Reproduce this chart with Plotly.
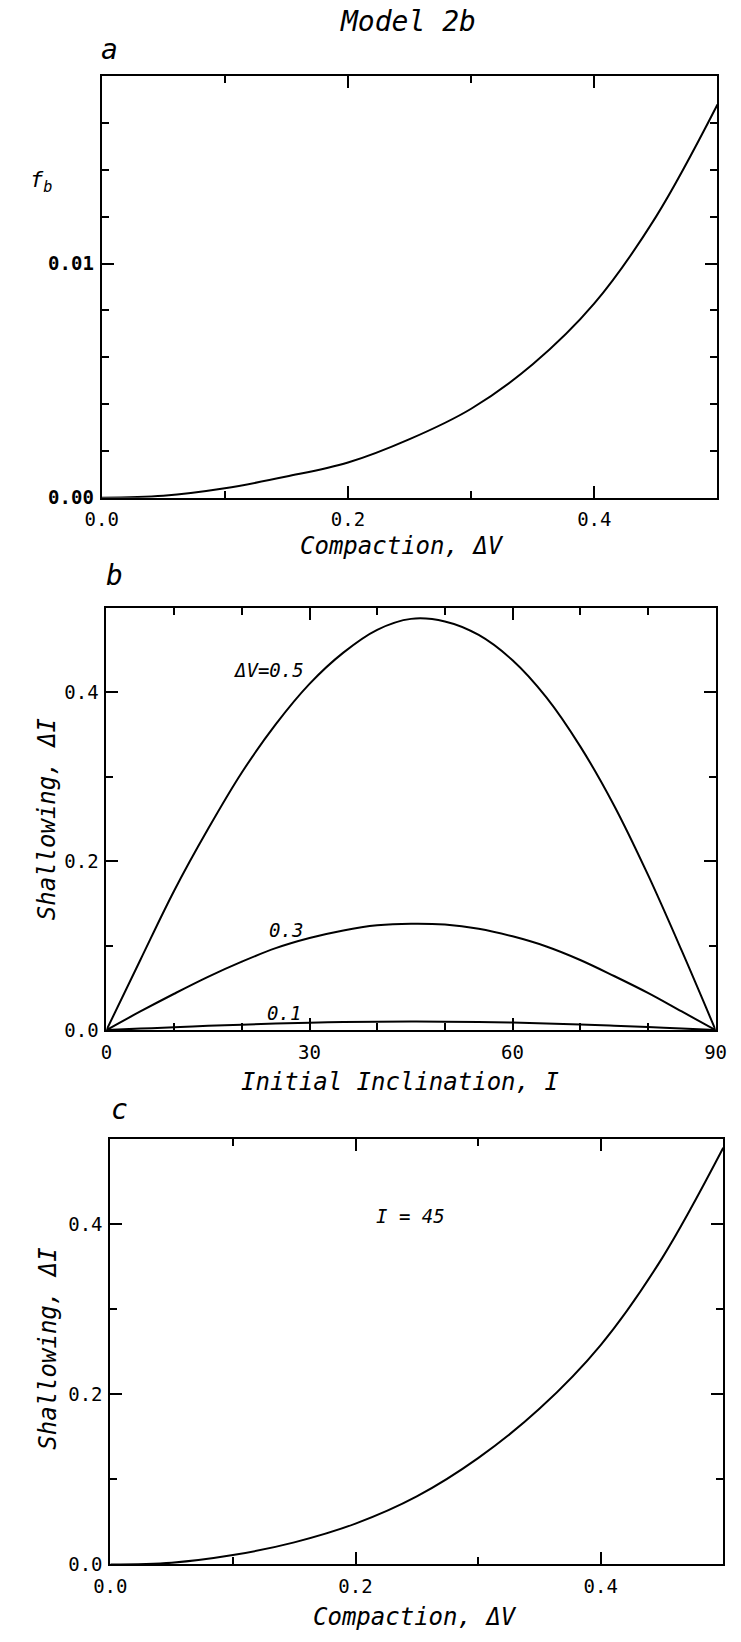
import plotly.graph_objects as go

# ---------------- data ----------------
# Panel a: fraction f_b vs compaction dV
dv_a = [0.0, 0.05, 0.1, 0.15, 0.2, 0.25, 0.3, 0.35, 0.4, 0.45, 0.5]
fb_a = [0.0, 0.00008, 0.0004, 0.0009, 0.0015, 0.0025, 0.0038, 0.0057, 0.0083, 0.0120, 0.0168]

# Panel b: shallowing dI vs initial inclination I for three compactions
inc_b = [0, 5, 10, 15, 20, 25, 30, 35, 40, 45, 50, 55, 60, 65, 70, 75, 80, 85, 90]
dI_05 = [0.0, 0.083, 0.165, 0.238, 0.305, 0.362, 0.410, 0.447, 0.474, 0.487, 0.484, 0.468, 0.438, 0.394, 0.336, 0.266, 0.184, 0.094, 0.0]
dI_03 = [0.0, 0.022, 0.043, 0.063, 0.081, 0.097, 0.109, 0.118, 0.124, 0.126, 0.125, 0.120, 0.111, 0.099, 0.083, 0.064, 0.044, 0.022, 0.0]
dI_01 = [0.0, 0.0017, 0.0034, 0.005, 0.0064, 0.0077, 0.0087, 0.0094, 0.0098, 0.010, 0.0099, 0.0095, 0.0088, 0.0078, 0.0066, 0.0051, 0.0035, 0.0018, 0.0]
curve_labels_b = ["\u0394V=0.5", "0.3", "0.1"]
label_pos_I = [24.0, 26.5, 26.3]
label_pos_dI = [0.426, 0.118, 0.020]

# Panel c: shallowing dI vs compaction dV at I = 45
dv_c = [0.0, 0.05, 0.1, 0.15, 0.2, 0.25, 0.3, 0.35, 0.4, 0.45, 0.5]
dI_c = [0.0, 0.002, 0.011, 0.026, 0.048, 0.080, 0.125, 0.183, 0.258, 0.360, 0.490]

# ---------------- layout helpers ----------------
W, H = 741, 1642
def px(x):
    return x / W
def py(y):
    return 1 - y / H

MONO = "DejaVu Sans Mono"
line_style = dict(color="black", width=2)

fig = go.Figure()
fig.add_trace(go.Scatter(x=dv_a, y=fb_a, mode="lines", line=dict(shape="spline", smoothing=1.0, **line_style),
                         xaxis="x", yaxis="y", showlegend=False))
for ys in (dI_05, dI_03, dI_01):
    fig.add_trace(go.Scatter(x=inc_b, y=ys, mode="lines", line=dict(shape="spline", smoothing=1.0, **line_style),
                             xaxis="x2", yaxis="y2", showlegend=False))
fig.add_trace(go.Scatter(x=dv_c, y=dI_c, mode="lines", line=dict(shape="spline", smoothing=1.0, **line_style),
                         xaxis="x3", yaxis="y3", showlegend=False))

def axis(domain, rng, dtick, minor_dtick, fmt, anchor, bold=False, standoff=4):
    return dict(
        domain=domain, range=rng, anchor=anchor, dtick=dtick, tick0=0, tickformat=fmt,
        showline=True, linecolor="black", linewidth=2, mirror="allticks",
        ticks="inside", ticklen=12, tickwidth=2, tickcolor="black",
        showgrid=False, zeroline=False, ticklabelstandoff=standoff,
        tickfont=dict(family=MONO, size=19, color="black", weight="bold" if bold else "normal"),
        minor=dict(ticks="inside", ticklen=7, tickwidth=1.5, tickcolor="black", dtick=minor_dtick, tick0=0, showgrid=False),
    )

fig.update_layout(
    width=W, height=H, margin=dict(l=0, r=0, t=0, b=0),
    paper_bgcolor="white", plot_bgcolor="white",
    xaxis=axis([px(88), px(728)], [0, 0.5], 0.2, 0.1, ".1f", "y"),
    yaxis=axis([py(501), py(77)], [0, 0.018], 0.01, 0.002, ".2f", "x", bold=True, standoff=2),
    xaxis2=axis([px(93), px(726)], [0, 90], 30, 10, "d", "y2"),
    yaxis2=axis([py(1037), py(612)], [0, 0.5], 0.2, 0.1, ".1f", "x2", standoff=2),
    xaxis3=axis([px(97), px(734)], [0, 0.5], 0.2, 0.1, ".1f", "y3"),
    yaxis3=axis([py(1575), py(1147)], [0, 0.5], 0.2, 0.1, ".1f", "x3", standoff=2),
)

ann = []
def text(x, y, s, size, angle=0):
    ann.append(dict(x=px(x), y=py(y), xref="paper", yref="paper", text=s, showarrow=False,
                    font=dict(family=MONO, size=size, color="black"), textangle=angle,
                    xanchor="center", yanchor="middle"))

text(406, 22, "<i>Model 2b</i>", 28)
text(96, 50, "<i>a</i>", 28)
text(101, 579, "<i>b</i>", 28)
text(107, 1117, "<i>c</i>", 28)
text(25, 183, "<i>f</i><sub><i>b</i></sub>", 22)
text(400, 550, "<i>Compaction, \u0394V</i>", 24)
text(398, 1089, "<i>Initial Inclination, I</i>", 24)
text(414, 1628, "<i>Compaction, \u0394V</i>", 24)
text(32, 825, "<i>Shallowing, \u0394I</i>", 24, angle=-90)
text(32, 1358, "<i>Shallowing, \u0394I</i>", 24, angle=-90)

for s, xi, yi in zip(curve_labels_b, label_pos_I, label_pos_dI):
    ann.append(dict(x=xi, y=yi, xref="x2", yref="y2", text="<i>" + s + "</i>", showarrow=False,
                    font=dict(family=MONO, size=19, color="black")))
ann.append(dict(x=0.245, y=0.41, xref="x3", yref="y3", text="<i>I = 45</i>", showarrow=False,
                font=dict(family=MONO, size=19, color="black")))

fig.update_layout(annotations=ann)
fig.write_html("out.html")
